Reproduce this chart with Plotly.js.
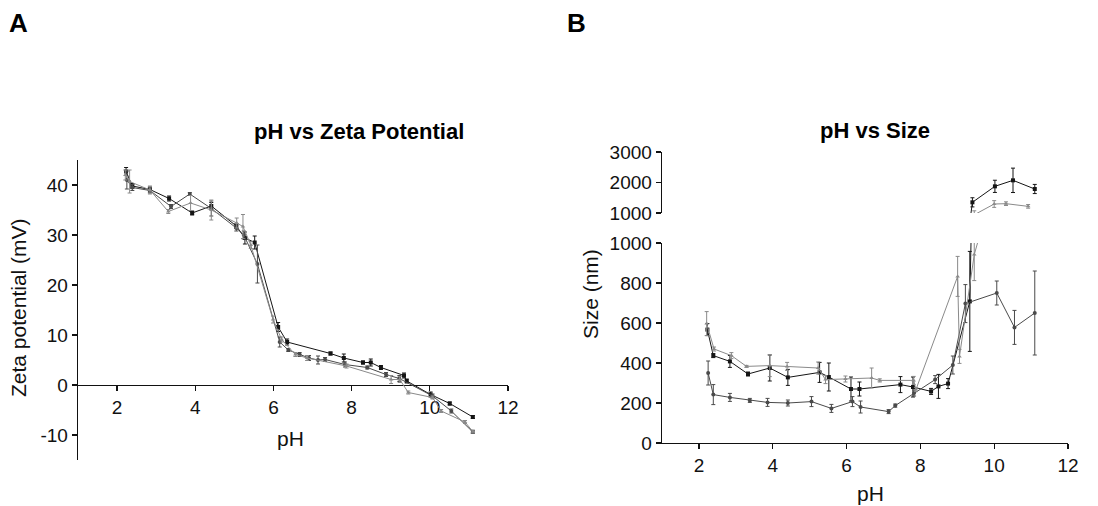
<!DOCTYPE html>
<html>
<head>
<meta charset="utf-8">
<script src="https://cdn.plot.ly/plotly-3.0.1.min.js"></script>
<style>html,body{margin:0;padding:0;background:#fff;}#chart{width:1098px;height:506px;}</style>
</head>
<body>
<div id="chart"></div>
<script>
// ---------- Panel A: pH vs Zeta Potential ----------
const zetaPH1 = [2.23,2.39,2.84,3.33,3.92,4.41,5.05,5.27,5.52,6.12,6.35,7.46,7.80,8.29,8.49,8.75,9.34,9.41,10.02,10.51,11.10];
const zeta1   = [42.7,39.8,39.1,37.3,34.4,35.8,31.8,29.4,28.5,11.6,8.6,6.3,5.4,4.5,4.5,3.5,1.9,0.8,-1.9,-3.7,-6.4];
const zetaErr1= [0.8,0.5,0.5,0.5,0.4,0.7,0.5,1.2,1.3,0.9,0.6,0.3,0.8,0.3,0.7,0.4,0.5,0.4,0.5,0.3,0.3];

const zetaPH2 = [2.25,2.39,2.84,3.38,3.86,4.41,5.05,5.24,5.59,6.16,6.38,6.67,6.91,7.14,7.32,7.83,8.40,8.88,9.22,10.07,10.55,11.10];
const zeta2   = [41.0,39.5,38.9,35.7,38.2,35.3,31.4,30.0,24.2,8.6,7.0,6.1,5.4,5.0,5.1,4.1,3.5,2.1,1.3,-2.2,-5.2,-9.4];
const zetaErr2= [1.8,0.6,0.5,0.4,0.3,1.5,0.6,0.8,3.8,1.0,0.3,0.4,0.5,0.8,0.4,0.5,0.3,0.4,0.6,0.4,0.4,0.3];

const zetaPH3 = [2.21,2.32,2.84,3.31,3.88,4.41,5.06,5.22,5.42,5.99,6.21,6.56,6.86,7.87,9.01,9.23,9.45,10.07,10.29,10.90,11.10];
const zeta3   = [42.0,40.7,39.0,34.7,36.4,35.0,32.4,31.7,28.0,13.1,9.1,6.1,5.4,3.8,1.1,1.1,-1.5,-2.5,-5.2,-7.4,-9.3];
const zetaErr3= [1.0,2.3,0.8,0.4,1.5,2.0,1.0,2.4,0.7,0.7,0.5,0.4,0.5,0.4,0.8,0.6,0.3,0.3,0.3,0.3,0.3];

// ---------- Panel B: pH vs Size ----------
const sizePH1 = [2.23,2.39,2.84,3.33,3.92,4.41,5.27,5.52,6.12,6.35,7.46,7.80,8.29,8.49,8.75,9.34,9.41,10.02,10.51,11.10];
const size1   = [567,437,408,345,375,328,353,330,270,270,292,280,258,283,297,708,1350,1874,2071,1787];
const sizeErr1= [30,10,30,10,65,40,50,70,60,35,40,50,15,60,25,250,150,200,400,150];

const sizePH2 = [2.25,2.39,2.84,3.38,3.86,4.41,5.05,5.59,6.16,6.38,7.14,7.32,7.83,8.40,8.88,9.22,10.07,10.55,11.10];
const size2   = [350,242,228,213,203,200,207,173,207,180,157,187,250,317,390,697,750,578,650];
const sizeErr2= [60,50,20,10,20,15,25,20,25,30,10,8,15,20,45,95,60,85,210];

const sizePH3 = [2.21,2.41,2.88,3.29,3.92,4.39,5.23,5.43,5.97,6.68,6.90,7.82,7.88,9.01,9.06,9.46,10.00,10.32,10.92];
const size3   = [597,470,437,383,387,383,375,317,320,325,313,313,267,833,433,942,1295,1306,1218];
const sizeErr3= [60,10,15,5,55,20,30,20,15,50,8,20,10,100,35,130,110,60,60];

const xTicks = [2,4,6,8,10,12];
const zetaTicks = [-10,0,10,20,30,40];
const zetaTickText = ['-10','0','10','20','30','40'];
const sizeLowTicks = [0,200,400,600,800,1000];
const sizeHighTicks = [1000,2000,3000];

// ---------- styling ----------
const W = 1098, H = 506;
const px = v => v / W;
const py = v => 1 - v / H;
const FONT = 'Liberation Sans, Arial, sans-serif';
const styles = [
  {color:'#151515', symbol:'square'},
  {color:'#4a4a4a', symbol:'circle'},
  {color:'#8a8a8a', symbol:'triangle-up'}
];

function mk(x, y, e, s, xa, ya) {
  return {
    x: x, y: y, xaxis: xa, yaxis: ya, type: 'scatter', mode: 'lines+markers',
    line: {color: s.color, width: 1},
    marker: {color: s.color, symbol: s.symbol, size: 4},
    error_y: {type: 'data', array: e, visible: true, color: s.color, thickness: 1, width: 2},
    showlegend: false, hoverinfo: 'skip', cliponaxis: true
  };
}

const traces = [
  mk(zetaPH1, zeta1, zetaErr1, styles[0], 'x', 'y'),
  mk(zetaPH2, zeta2, zetaErr2, styles[1], 'x', 'y'),
  mk(zetaPH3, zeta3, zetaErr3, styles[2], 'x', 'y'),
  mk(sizePH1, size1, sizeErr1, styles[0], 'x2', 'y3'),
  mk(sizePH2, size2, sizeErr2, styles[1], 'x2', 'y3'),
  mk(sizePH3, size3, sizeErr3, styles[2], 'x2', 'y3'),
  mk(sizePH1, size1, sizeErr1, styles[0], 'x2', 'y4'),
  mk(sizePH2, size2, sizeErr2, styles[1], 'x2', 'y4'),
  mk(sizePH3, size3, sizeErr3, styles[2], 'x2', 'y4')
];

// pixel geometry
const A = {x0: 78, x1: 508, yTop: 160, yBot: 460, yZero: 385};
const B = {x0: 662, x1: 1068, lowTop: 243, lowBot: 443, hiTop: 152, hiBot: 213};

const tickFont = {family: FONT, size: 19, color: '#111'};
const axBase = {
  showline: true, linecolor: '#111', linewidth: 1.3, ticks: 'outside', ticklen: 5,
  tickwidth: 1.2, tickcolor: '#111', showgrid: false, zeroline: false,
  tickfont: tickFont, fixedrange: true
};

function ann(text, x, y, size, opts) {
  return Object.assign({
    text: text, x: px(x), y: py(y), xref: 'paper', yref: 'paper', showarrow: false,
    xanchor: 'center', yanchor: 'middle',
    font: {family: FONT, size: size, color: '#111'}
  }, opts || {});
}

const layout = {
  width: W, height: H, margin: {l: 0, r: 0, t: 0, b: 0},
  paper_bgcolor: '#fff', plot_bgcolor: 'rgba(0,0,0,0)', showlegend: false,
  xaxis: Object.assign({}, axBase, {
    domain: [px(A.x0), px(A.x1)], range: [1, 12], tickvals: xTicks,
    anchor: 'free', position: py(A.yZero), layer: 'below traces'
  }),
  yaxis: Object.assign({}, axBase, {
    domain: [py(A.yBot), py(A.yTop)], range: [-15, 45], tickvals: zetaTicks, ticktext: zetaTickText, anchor: 'x'
  }),
  xaxis2: Object.assign({}, axBase, {
    domain: [px(B.x0), px(B.x1)], range: [1, 12], tickvals: xTicks, anchor: 'y3'
  }),
  yaxis3: Object.assign({}, axBase, {
    domain: [py(B.lowBot), py(B.lowTop)], range: [0, 1000], tickvals: sizeLowTicks, anchor: 'x2'
  }),
  yaxis4: Object.assign({}, axBase, {
    domain: [py(B.hiBot), py(B.hiTop)], range: [1000, 3000], tickvals: sizeHighTicks, anchor: 'x2'
  }),
  annotations: [
    ann('A', 18, 23, 26, {font: {family: 'Liberation Sans Narrow, ' + FONT, size: 26, weight: 'bold', color: '#000'}}),
    ann('B', 576, 23, 26, {font: {family: 'Liberation Sans Narrow, ' + FONT, size: 26, weight: 'bold', color: '#000'}}),
    ann('pH vs Zeta Potential', 359, 131, 22, {font: {family: FONT, size: 22, weight: 'bold', color: '#000'}}),
    ann('pH vs Size', 875, 130, 22, {font: {family: FONT, size: 22, weight: 'bold', color: '#000'}}),
    ann('pH', 290, 438, 21),
    ann('pH', 870, 493, 21),
    ann('Zeta potential (mV)', 18, 308, 21, {textangle: -90}),
    ann('Size (nm)', 590, 294, 21, {textangle: -90})
  ]
};

Plotly.newPlot('chart', traces, layout, {staticPlot: true, displayModeBar: false});
</script>
</body>
</html>
